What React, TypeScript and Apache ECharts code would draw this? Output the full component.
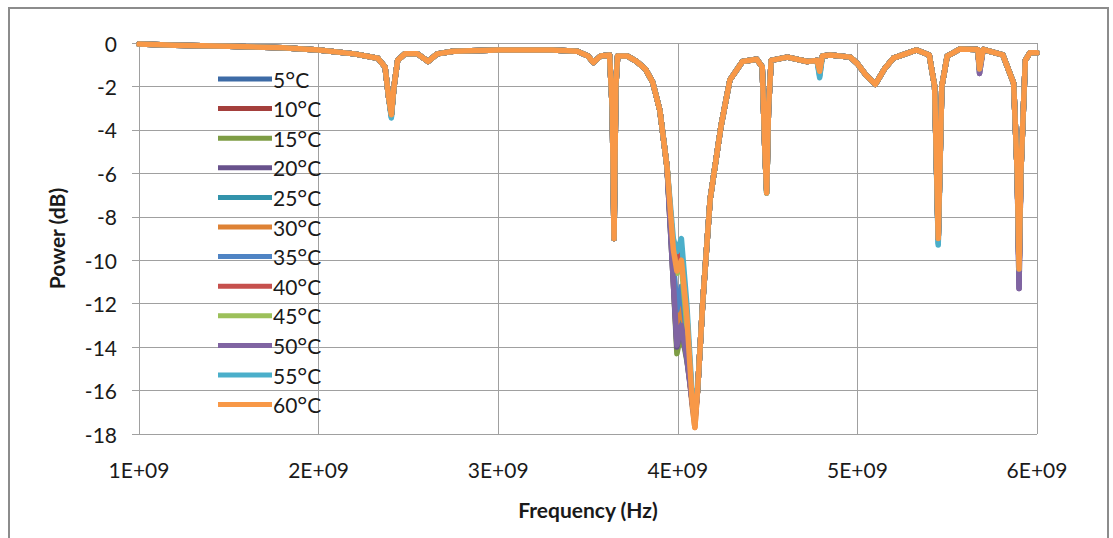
import React, { useEffect, useRef } from "react";
import * as echarts from "echarts";

// Shared sweep (GHz) and shared response (dB) where all temperatures overlap
const FREQ_GHZ = [
  1.0, 1.2, 1.5, 1.8, 2.0, 2.2, 2.33, 2.37, 2.39, 2.42, 2.44, 2.48, 2.55, 2.61, 2.66, 2.75,
  3.0, 3.3, 3.44, 3.5, 3.53, 3.57, 3.62, 3.635, 3.645, 3.655, 3.665, 3.72, 3.77, 3.82, 3.86,
  3.9, 3.94, 4.11, 4.14, 4.18, 4.24, 4.29, 4.36, 4.44, 4.47, 4.485, 4.505, 4.52, 4.61, 4.72,
  4.775, 4.805, 4.85, 4.96, 5.0, 5.05, 5.1, 5.15, 5.2, 5.33, 5.4, 5.43, 5.47, 5.5, 5.57, 5.67,
  5.7, 5.81, 5.87, 5.89, 5.91, 5.935, 5.96, 6.0,
];
const BASE_DB = [
  -0.05, -0.1, -0.15, -0.22, -0.32, -0.5, -0.7, -1.1, -2.5, -2.0, -0.8, -0.5, -0.5, -0.85, -0.5, -0.38,
  -0.32, -0.32, -0.38, -0.6, -0.9, -0.6, -0.55, -3.0, -9.0, -2.0, -0.6, -0.6, -0.85, -1.2, -1.8,
  -3.1, -5.7, -16.0, -11.8, -7.2, -3.85, -1.7, -0.85, -0.75, -1.1, -5.0, -3.0, -0.8, -0.65, -0.85,
  -0.8, -0.6, -0.55, -0.65, -0.95, -1.5, -1.9, -1.2, -0.7, -0.32, -0.55, -2.0, -2.0, -0.6, -0.28, -0.3,
  -0.3, -0.55, -1.85, -6.0, -6.0, -0.8, -0.45, -0.45,
];

const TEMPS = ["5°C", "10°C", "15°C", "20°C", "25°C", "30°C", "35°C", "40°C", "45°C", "50°C", "55°C", "60°C"];
const COLORS = [
  "#3D6BA6", "#A43F3C", "#7E9D45", "#68528C", "#3293AB", "#DE8235",
  "#4F84C4", "#C6504D", "#9CC05A", "#8064A2", "#4BAFCA", "#F89847",
];

// Main double dip around 4 GHz, per temperature
const MAIN_DIP_GHZ = [3.975, 3.995, 4.02, 4.05, 4.08, 4.095];
const MAIN_DIP_DB = [
  [-10.5, -13.8, -12.0, -14.0, -16.5, -17.3],
  [-10.5, -13.2, -12.5, -14.2, -16.5, -17.4],
  [-11.0, -14.3, -13.3, -14.6, -16.3, -17.0],
  [-11.0, -14.0, -13.0, -14.5, -16.5, -17.2],
  [-10.5, -13.5, -12.8, -14.3, -16.4, -17.2],
  [-10.0, -12.9, -12.0, -14.0, -16.7, -17.7],
  [-10.0, -12.3, -11.2, -13.5, -16.6, -17.4],
  [-9.5, -10.0, -9.7, -12.5, -16.5, -17.3],
  [-9.5, -10.6, -10.2, -13.0, -16.3, -17.0],
  [-11.0, -13.9, -13.0, -14.5, -16.5, -17.2],
  [-9.0, -9.6, -9.0, -12.0, -16.2, -17.1],
  [-9.5, -10.5, -10.0, -12.5, -16.5, -17.7],
];

// Narrow notch bottoms, per temperature
const NOTCH_GHZ = [2.405, 4.495, 4.79, 5.45, 5.68, 5.9];
const NOTCH_DB = [
  [-3.3, -6.8, -1.3, -9.0, -1.2, -10.6],
  [-3.3, -6.8, -1.3, -9.0, -1.2, -10.6],
  [-3.3, -6.9, -1.3, -9.0, -1.2, -10.5],
  [-3.3, -6.8, -1.3, -9.0, -1.4, -11.3],
  [-3.4, -6.9, -1.5, -9.2, -1.2, -10.4],
  [-3.3, -6.8, -1.3, -9.0, -1.2, -10.5],
  [-3.3, -6.8, -1.3, -9.0, -1.2, -10.7],
  [-3.3, -6.8, -1.3, -9.0, -1.2, -10.5],
  [-3.3, -6.9, -1.3, -9.0, -1.2, -10.4],
  [-3.3, -6.8, -1.3, -9.0, -1.4, -11.3],
  [-3.45, -6.9, -1.6, -9.3, -1.2, -10.4],
  [-3.3, -6.9, -1.3, -9.0, -1.2, -10.4],
];

function seriesPoints(i: number): number[][] {
  const pts: number[][] = FREQ_GHZ.map((f, k) => [f, BASE_DB[k]]);
  MAIN_DIP_GHZ.forEach((f, k) => pts.push([f, MAIN_DIP_DB[i][k]]));
  NOTCH_GHZ.forEach((f, k) => pts.push([f, NOTCH_DB[i][k]]));
  pts.sort((a, b) => a[0] - b[0]);
  return pts;
}

const FONT = "Lato";

export default function App() {
  const ref = useRef<HTMLDivElement>(null);
  useEffect(() => {
    if (!ref.current) return;
    const chart = echarts.init(ref.current, undefined, { renderer: "svg" });
    chart.setOption({
      animation: false,
      backgroundColor: "#ffffff",
      grid: { left: 139, right: 76, top: 43, bottom: 104 },
      graphic: [
        {
          type: "rect",
          shape: { x: 9, y: 8, width: 1099, height: 545 },
          style: { fill: "none", stroke: "#8c8c8c", lineWidth: 2 },
          silent: true,
        },
      ],
      legend: {
        orient: "vertical",
        left: 213,
        top: 62,
        icon: "rect",
        itemWidth: 54,
        itemHeight: 5,
        itemGap: 5.6,
        data: TEMPS,
        formatter: (name: string) => `{n|${name.replace("°C", "")}}{d|°}{n|C}`,
        textStyle: {
          fontFamily: FONT,
          fontSize: 21,
          color: "#1a1a1a",
          lineHeight: 24,
          padding: [0, 0, 0, -4],
          rich: {
            n: { fontFamily: FONT, fontSize: 21, color: "#1a1a1a", lineHeight: 24 },
            d: { fontFamily: FONT, fontSize: 24, color: "#1a1a1a", lineHeight: 24 },
          },
        },
      },
      xAxis: {
        type: "value",
        min: 1,
        max: 6,
        interval: 1,
        name: "Frequency (Hz)",
        nameLocation: "middle",
        nameGap: 65,
        nameTextStyle: { fontFamily: FONT, fontSize: 21, fontWeight: "bold", color: "#1a1a1a" },
        axisLine: { show: true, lineStyle: { color: "#a0a0a0", width: 1 } },
        axisTick: { show: true, length: 7, lineStyle: { color: "#a0a0a0" } },
        axisLabel: {
          margin: 25,
          fontFamily: FONT,
          fontSize: 21,
          color: "#1a1a1a",
          formatter: (v: number) => `${v}E+09`,
        },
        splitLine: { show: true, lineStyle: { color: "#a0a0a0", width: 1 } },
      },
      yAxis: {
        type: "value",
        min: -18,
        max: 0,
        interval: 2,
        name: "Power (dB)",
        nameLocation: "middle",
        nameGap: 72,
        nameTextStyle: { fontFamily: FONT, fontSize: 21, fontWeight: "bold", color: "#1a1a1a" },
        axisLine: { show: true, lineStyle: { color: "#a0a0a0", width: 1 } },
        axisTick: { show: true, length: 7, lineStyle: { color: "#a0a0a0" } },
        axisLabel: { margin: 22, fontFamily: FONT, fontSize: 21, color: "#1a1a1a" },
        splitLine: { show: true, lineStyle: { color: "#a0a0a0", width: 1 } },
      },
      series: TEMPS.map((t, i) => ({
        name: t,
        type: "line",
        data: seriesPoints(i),
        showSymbol: false,
        symbol: "none",
        color: COLORS[i],
        lineStyle: { width: 5.5, color: COLORS[i], cap: "round", join: "round" },
        emphasis: { disabled: true },
      })),
    });
    return () => chart.dispose();
  }, []);
  return (
    <div
      ref={ref}
      style={{ position: "fixed", left: 0, top: 0, width: 1113, height: 538, background: "#fff" }}
    />
  );
}
